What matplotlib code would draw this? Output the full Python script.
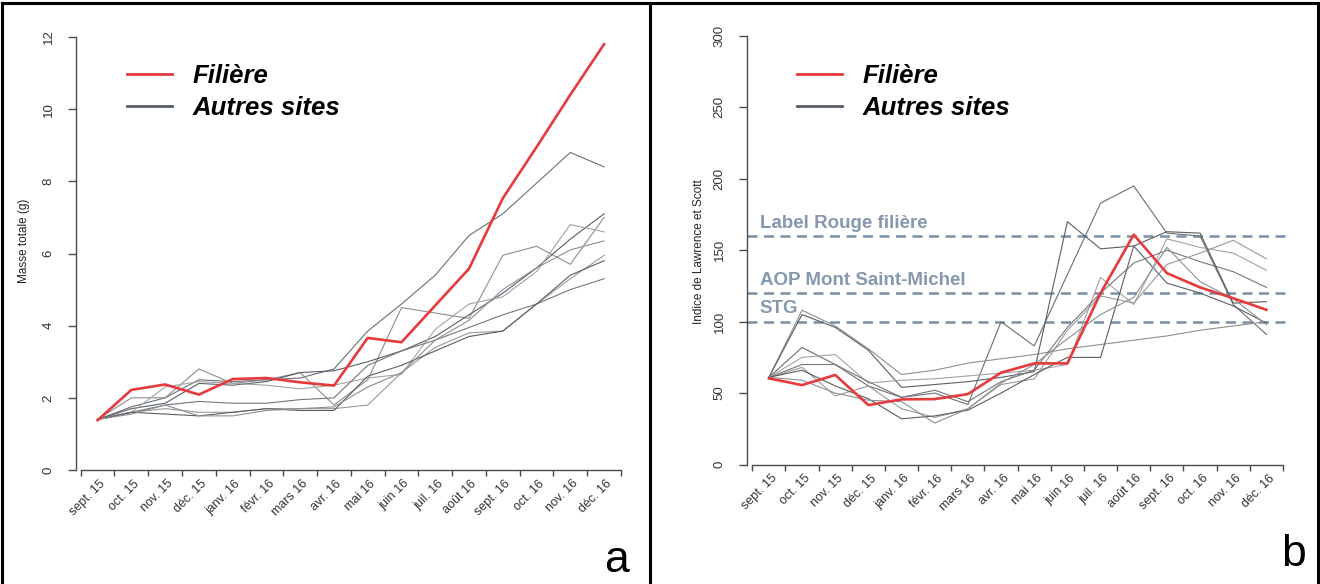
import matplotlib
matplotlib.use('Agg')
import matplotlib.pyplot as plt
import matplotlib.transforms as mtransforms
from matplotlib.lines import Line2D
import numpy as np

plt.rcParams['font.family'] = ['Liberation Sans', 'DejaVu Sans']

# ---------------- data ----------------
months = ['sept. 15', 'oct. 15', 'nov. 15', 'déc. 15', 'janv. 16', 'févr. 16',
          'mars 16', 'avr. 16', 'mai 16', 'juin 16', 'juil. 16', 'août 16',
          'sept. 16', 'oct. 16', 'nov. 16', 'déc. 16']

filiere_masse = [1.38, 2.22, 2.37, 2.09, 2.52, 2.55, 2.43, 2.34, 3.66, 3.54,
                 4.56, 5.58, 7.53, 8.95, 10.4, 11.8]
autres_masse_1 = [1.4, 1.75, 2.0, 2.5, 2.45, 2.5, 2.55, 2.8, 3.85, 4.6, 5.4, 6.5, 7.1, 7.95, 8.8, 8.4]
autres_masse_2 = [1.4, 2.0, 2.0, 2.8, 2.4, 2.5, 2.7, 1.8, 2.5, 4.5, 4.35, 4.2, 5.95, 6.2, 5.7, 7.0]
autres_masse_3 = [1.4, 1.7, 1.85, 2.4, 2.35, 2.45, 2.7, 2.75, 3.0, 3.3, 3.7, 4.3, 4.9, 5.6, 6.4, 7.1]
autres_masse_4 = [1.4, 1.6, 2.3, 2.45, 2.4, 2.35, 2.25, 2.35, 2.55, 2.65, 3.9, 4.6, 4.8, 5.5, 6.8, 6.6]
autres_masse_5 = [1.4, 1.6, 1.8, 1.9, 1.85, 1.85, 1.95, 2.0, 2.9, 3.3, 3.6, 3.95, 4.3, 4.6, 5.0, 5.3]
autres_masse_6 = [1.4, 1.6, 1.7, 1.6, 1.6, 1.7, 1.7, 1.7, 1.8, 2.7, 3.4, 3.8, 3.85, 4.6, 5.3, 5.95]
autres_masse_7 = [1.4, 1.6, 1.55, 1.5, 1.6, 1.7, 1.65, 1.65, 2.6, 2.9, 3.3, 3.7, 3.85, 4.6, 5.4, 5.8]
autres_masse_8 = [1.4, 1.55, 1.8, 1.5, 1.5, 1.65, 1.7, 1.75, 2.3, 2.7, 3.6, 4.15, 5.0, 5.6, 6.1, 6.35]

filiere_indice = [60.3, 55.6, 62.7, 41.6, 45.6, 45.8, 49.3, 64.3, 70.8, 70.8,
                  120, 160.9, 134, 124, 116.4, 108.3]
autres_indice_1 = [61, 82, 70, 55, 47, 50, 42, 100, 83, 133, 183, 195, 162, 160, 112, 91]
autres_indice_2 = [61, 108, 97, 81, 63, 66, 71, 74, 77, 81, 84, 87, 90, 94, 97, 100]
autres_indice_3 = [61, 105, 96, 80, 54, 56, 58, 61, 65, 170, 151, 153, 127, 120, 111, 99]
autres_indice_4 = [61, 75, 77, 57, 59, 60, 62, 64, 66, 70, 131, 112, 158, 152, 148, 136]
autres_indice_5 = [61, 70, 70, 58, 47, 52, 44, 58, 66, 96, 120, 141, 150, 142, 135, 124]
autres_indice_6 = [61, 68, 48, 55, 39, 33, 39, 56, 60, 94, 118, 113, 140, 148, 157, 144]
autres_indice_7 = [61, 66, 55, 46, 32, 34, 38, 50, 63, 75, 75, 153, 163, 162, 113, 114]
autres_indice_8 = [61, 59, 50, 45, 44, 29, 39, 57, 70, 88, 105, 117, 152, 128, 116, 98]

seuils = [160, 120, 100]
seuil_labels = ['Label Rouge filière', 'AOP Mont Saint-Michel', 'STG']

legend_labels = ['Filière', 'Autres sites']

autres_masse = [autres_masse_1, autres_masse_2, autres_masse_3, autres_masse_4,
                autres_masse_5, autres_masse_6, autres_masse_7, autres_masse_8]
autres_indice = [autres_indice_1, autres_indice_2, autres_indice_3, autres_indice_4,
                 autres_indice_5, autres_indice_6, autres_indice_7, autres_indice_8]

# ---------------- style ----------------
W, H = 1320, 584
RED = '#e63a3d'
GRAYS = ['#6a6f75', '#8e8e8e', '#55606a', '#a3a3a3', '#777777', '#999999',
         '#5d5d5d', '#8a9096']
AXCOL = '#4a4a4a'
TXT = '#333333'
DASH = '#7890a7'
DASHTXT = '#8598ae'

fig = plt.figure(figsize=(W / 100, H / 100), dpi=100)


def px_axes(l, t, r, b):
    return fig.add_axes([l / W, 1 - b / H, (r - l) / W, (b - t) / H])


def style(ax, ymax, yticks, xlim):
    x = np.arange(len(months))
    ax.set_xlim(*xlim)
    ax.set_ylim(0, ymax)
    for s in ['top', 'right']:
        ax.spines[s].set_visible(False)
    ax.spines['left'].set_bounds(0, ymax)
    ax.spines['bottom'].set_bounds(-0.5, len(months) - 0.5)
    for s in ['left', 'bottom']:
        ax.spines[s].set_color(AXCOL)
        ax.spines[s].set_linewidth(1.0)
    ax.set_xticks(np.arange(-0.5, len(months), 1.0))
    ax.set_xticklabels([])
    ax.set_yticks(yticks)
    ax.set_yticklabels([str(v) for v in yticks])
    ax.tick_params(axis='both', direction='out', length=5.5, width=1.0,
                   color=AXCOL, labelcolor=TXT, labelsize=9.5)
    ax.tick_params(axis='x', length=4.5)
    ax.tick_params(axis='y', pad=10)
    for lab in ax.get_yticklabels():
        lab.set_rotation(90)
        lab.set_va('center')
        lab.set_ha('right')
    tr = mtransforms.offset_copy(ax.get_xaxis_transform(), fig=fig,
                                 x=6, y=-12, units='dots')
    for i, m in enumerate(months):
        ax.text(x[i], 0, m, transform=tr, rotation=45, rotation_mode='anchor',
                ha='right', va='center', fontsize=9, color=TXT)
    ax.patch.set_alpha(0)


def legend(ax, x0, y0):
    handles = [Line2D([], [], color=RED, lw=2.0),
               Line2D([], [], color='#555d66', lw=2.0)]
    ax.legend(handles, legend_labels, loc='upper left',
              bbox_to_anchor=(x0 / W, 1 - y0 / H), bbox_transform=fig.transFigure,
              frameon=False, borderpad=0, borderaxespad=0, handlelength=1.75,
              handletextpad=0.8, labelspacing=0.3,
              prop={'family': 'Liberation Sans', 'weight': 'bold',
                    'style': 'italic', 'size': 18.5})


# ---------------- panel a ----------------
axa = px_axes(76, 37, 625.7, 470)
xs = np.arange(len(months))
for k, s in enumerate(autres_masse):
    axa.plot(xs, s, color=GRAYS[k % len(GRAYS)], lw=0.8, clip_on=False)
axa.plot(xs, filiere_masse, color=RED, lw=1.9, clip_on=False)
style(axa, 12, [0, 2, 4, 6, 8, 10, 12], (-0.64, 15.64))
legend(axa, 127, 64)

# ---------------- panel b ----------------
axb = px_axes(747, 36, 1288.3, 464.5)
for v, lab in zip(seuils, seuil_labels):
    axb.axhline(v, color=DASH, lw=1.8, ls=(0, (4, 2.6)), zorder=1)
    axb.text(-0.27, v + 3, lab, color=DASHTXT, fontsize=13.5, fontweight='bold',
             ha='left', va='bottom', zorder=1)
for k, s in enumerate(autres_indice):
    axb.plot(xs, s, color=GRAYS[k % len(GRAYS)], lw=0.8, zorder=2)
axb.plot(xs, filiere_indice, color=RED, lw=1.9, zorder=3)
style(axb, 300, [0, 50, 100, 150, 200, 250, 300], (-0.66, 15.66))
legend(axb, 797, 64)

# axis titles
fig.text(24 / W, 1 - 241 / H, 'Masse totale (g)', rotation=90, fontsize=8.5,
         ha='center', va='center', color='#222222')
fig.text(699 / W, 1 - 252 / H, 'Indice de Lawrence et Scott', rotation=90,
         fontsize=8.5, ha='center', va='center', color='#222222')

# panel letters
fig.text(616 / W, 1 - 560 / H, 'a', fontsize=32, ha='center', va='center')
fig.text(1293 / W, 1 - 554 / H, 'b', fontsize=32, ha='center', va='center')

# panel frames
for xx in [2, 650, 1318]:
    fig.add_artist(Line2D([xx / W, xx / W], [0, 1 - 3 / H], color='black',
                          lw=2.2, transform=fig.transFigure))
fig.add_artist(Line2D([2 / W, 1318 / W], [1 - 3 / H, 1 - 3 / H], color='black',
                      lw=2.2, transform=fig.transFigure))

fig.savefig('out.png', dpi=100, facecolor='white')
